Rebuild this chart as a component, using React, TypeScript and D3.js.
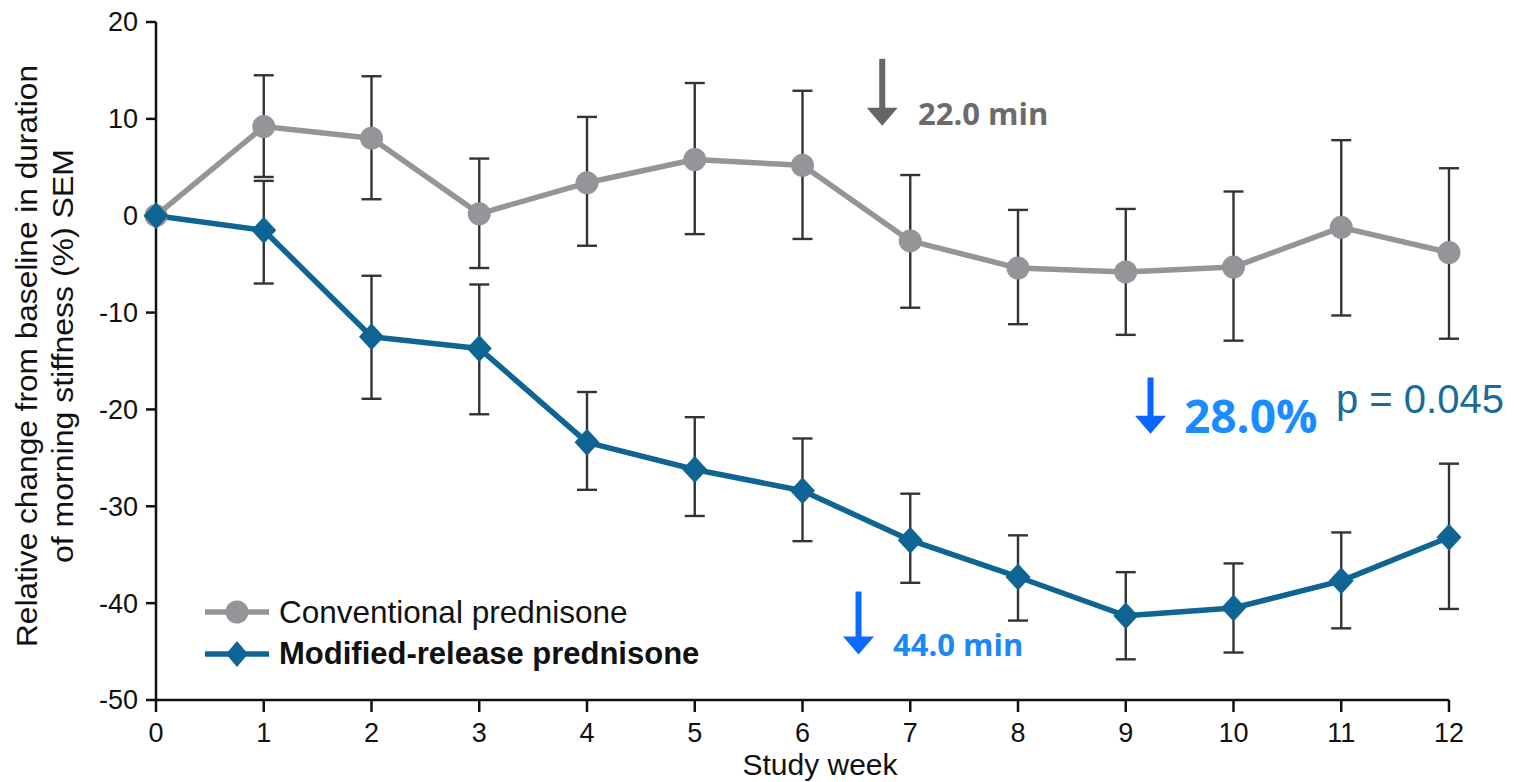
import React from "react";
import * as d3 from "d3";

// Study weeks on the x axis
const weeks = [0, 1, 2, 3, 4, 5, 6, 7, 8, 9, 10, 11, 12];
const yTicks = [-50, -40, -30, -20, -10, 0, 10, 20];

// Conventional prednisone: mean relative change (%) with upper / lower SEM bounds
const conventionalMean = [0, 9.2, 8.0, 0.2, 3.4, 5.8, 5.2, -2.6, -5.4, -5.8, -5.3, -1.2, -3.8];
const conventionalHigh = [null, 14.5, 14.4, 5.9, 10.2, 13.7, 12.9, 4.2, 0.6, 0.7, 2.5, 7.8, 4.9];
const conventionalLow = [null, 4.0, 1.7, -5.4, -3.1, -1.9, -2.4, -9.5, -11.2, -12.3, -12.9, -10.3, -12.7];

// Modified-release prednisone
const modifiedMean = [0, -1.5, -12.5, -13.7, -23.4, -26.2, -28.4, -33.5, -37.3, -41.3, -40.5, -37.7, -33.2];
const modifiedHigh = [null, 3.6, -6.2, -7.1, -18.2, -20.8, -23.0, -28.7, -33.0, -36.8, -35.9, -32.7, -25.6];
const modifiedLow = [null, -7.0, -18.9, -20.5, -28.3, -31.0, -33.6, -37.9, -41.8, -45.8, -45.1, -42.6, -40.6];

const seriesNames = ["Conventional prednisone", "Modified-release prednisone"];

const W = 1517;
const H = 782;
const GRAY = "#939598";
const TEAL = "#0e6593";
const BAR = "#333333";
const AXIS_FONT = "'Liberation Sans', Arial, Helvetica, sans-serif";
const NOTE_FONT = "'Open Sans', 'Noto Sans', sans-serif";

const x = d3.scaleLinear().domain([0, 12]).range([156, 1449]);
const y = d3.scaleLinear().domain([-50, 20]).range([700, 22]);

const line = d3
  .line<number>()
  .x((_, i) => x(weeks[i]))
  .y((v) => y(v));

function diamondPath(cx: number, cy: number, hw: number, hh: number) {
  return `M${cx},${cy - hh}L${cx + hw},${cy}L${cx},${cy + hh}L${cx - hw},${cy}Z`;
}

function ErrorBars({ high, low }: { high: (number | null)[]; low: (number | null)[] }) {
  const cap = 10;
  return (
    <g stroke={BAR} strokeWidth={2.4} fill="none">
      {weeks.map((w, i) => {
        const hi = high[i];
        const lo = low[i];
        if (hi == null || lo == null) return null;
        const cx = x(w);
        return (
          <g key={w}>
            <line x1={cx} x2={cx} y1={y(hi)} y2={y(lo)} />
            <line x1={cx - cap} x2={cx + cap} y1={y(hi)} y2={y(hi)} />
            <line x1={cx - cap} x2={cx + cap} y1={y(lo)} y2={y(lo)} />
          </g>
        );
      })}
    </g>
  );
}

function DownArrow({ cx, top, bottom, color, shaft = 6, head = 31, headH = 18 }: any) {
  return (
    <g fill={color}>
      <rect x={cx - shaft / 2} y={top} width={shaft} height={bottom - top - headH + 1} />
      <path d={`M${cx - head / 2},${bottom - headH}L${cx + head / 2},${bottom - headH}L${cx},${bottom}Z`} />
    </g>
  );
}

export default function App() {
  return (
    <svg
      width={W}
      height={H}
      viewBox={`0 0 ${W} ${H}`}
      style={{ position: "absolute", left: 0, top: 0, background: "#fff" }}
    >
      {/* axes */}
      <g stroke="#111" strokeWidth={2.5}>
        <line x1={x(0)} x2={x(0)} y1={y(20)} y2={y(-50)} />
        <line x1={x(0)} x2={x(12)} y1={y(-50)} y2={y(-50)} />
        {yTicks.map((t) => (
          <line key={t} x1={x(0) - 10} x2={x(0)} y1={y(t)} y2={y(t)} />
        ))}
        {weeks.map((w) => (
          <line key={w} x1={x(w)} x2={x(w)} y1={y(-50)} y2={y(-50) + 12} />
        ))}
      </g>
      <g fontFamily={AXIS_FONT} fontSize={27} fill="#111">
        {yTicks.map((t) => (
          <text key={t} x={x(0) - 18} y={y(t)} dy="0.35em" textAnchor="end">
            {t}
          </text>
        ))}
        {weeks.map((w) => (
          <text key={w} x={x(w)} y={742} textAnchor="middle">
            {w}
          </text>
        ))}
        <text x={820} y={775} textAnchor="middle" fontSize={30}>
          Study week
        </text>
        <g transform="translate(0,356) rotate(-90)" fontSize={29} textAnchor="middle">
          <text x={0} y={37} textLength={582} lengthAdjust="spacingAndGlyphs">
            Relative change from baseline in duration
          </text>
          <text x={0} y={73} textLength={414} lengthAdjust="spacingAndGlyphs">
            of morning stiffness (%) SEM
          </text>
        </g>
      </g>

      {/* error bars */}
      <ErrorBars high={conventionalHigh} low={conventionalLow} />
      <ErrorBars high={modifiedHigh} low={modifiedLow} />

      {/* series lines */}
      <path d={line(conventionalMean) || ""} fill="none" stroke={GRAY} strokeWidth={5.5} strokeLinejoin="round" />
      <path d={line(modifiedMean) || ""} fill="none" stroke={TEAL} strokeWidth={5.5} strokeLinejoin="round" />

      {/* markers */}
      {conventionalMean.map((v, i) => (
        <circle key={`c${i}`} cx={x(weeks[i])} cy={y(v)} r={11.5} fill={GRAY} />
      ))}
      {modifiedMean.map((v, i) => (
        <path key={`m${i}`} d={diamondPath(x(weeks[i]), y(v), 12.5, 13.5)} fill={TEAL} />
      ))}

      {/* legend */}
      <g fontFamily={AXIS_FONT} fontSize={31.5} fill="#111">
        <line x1={205} x2={269} y1={612} y2={612} stroke={GRAY} strokeWidth={5.5} />
        <circle cx={237} cy={612} r={11.5} fill={GRAY} />
        <text x={279} y={623}>{seriesNames[0]}</text>
        <line x1={205} x2={269} y1={654} y2={654} stroke={TEAL} strokeWidth={5.5} />
        <path d={diamondPath(237, 654, 11, 13)} fill={TEAL} />
        <text x={279} y={664} fontWeight="bold" fontSize={31}>{seriesNames[1]}</text>
      </g>

      {/* annotations */}
      <DownArrow cx={x(6.74)} top={y(16.2)} bottom={y(9.3)} color="#666666" />
      <text x={918} y={125} fontFamily={NOTE_FONT} fontWeight="bold" fontSize={31} fill="#6b6b6b">
        22.0 min
      </text>

      <DownArrow cx={x(6.52)} top={y(-38.8)} bottom={y(-45.3)} color="#0a6cff" />
      <text x={893} y={656} fontFamily={NOTE_FONT} fontWeight="bold" fontSize={31} fill="#1a88f7">
        44.0 min
      </text>

      <DownArrow cx={x(9.23)} top={y(-16.7)} bottom={y(-22.5)} color="#0a66ff" />
      <text x={1184} y={433} fontFamily={NOTE_FONT} fontWeight="bold" fontSize={46} fill="#1a8cff">
        28.0%
      </text>
      <text x={1336} y={413} fontFamily={AXIS_FONT} fontSize={40} fill="#1b6b99">
        p = 0.045
      </text>
    </svg>
  );
}
